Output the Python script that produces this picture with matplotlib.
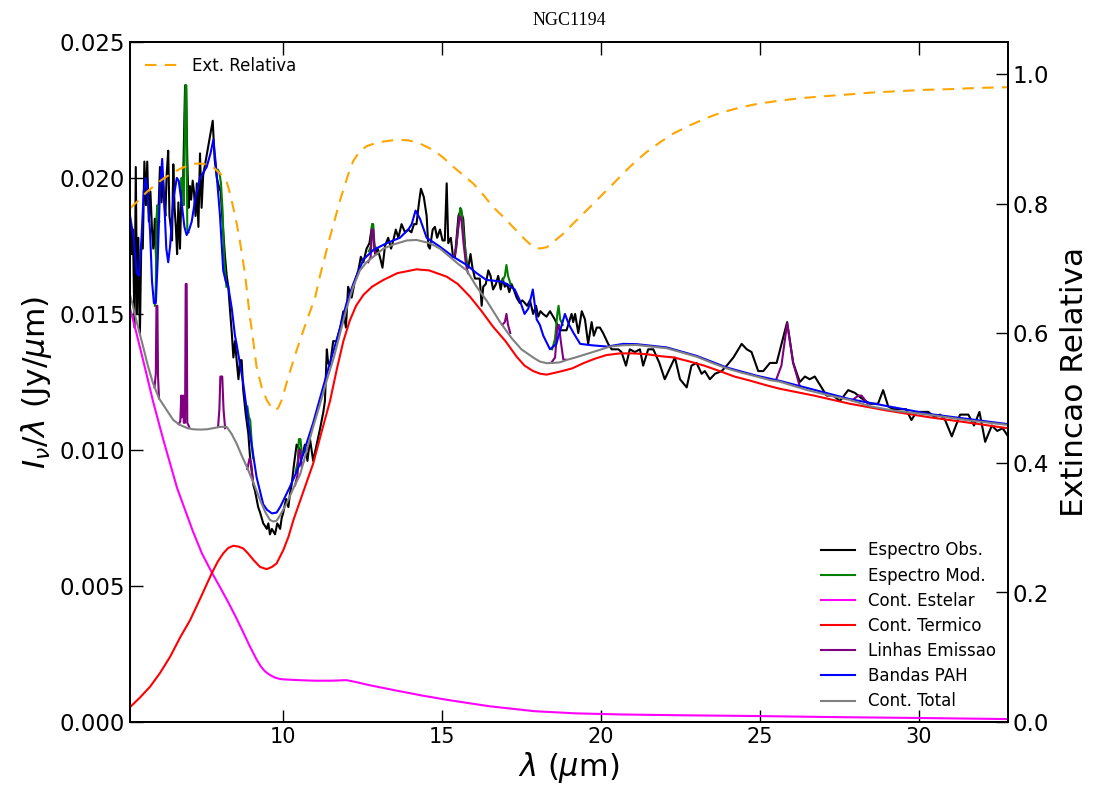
import numpy as np
import matplotlib
matplotlib.use('Agg')
import matplotlib.pyplot as plt

# observed spectrum (um, Jy/um)
obs_wl = [5.19, 5.24, 5.28, 5.33, 5.37, 5.41, 5.45, 5.50, 5.54, 5.59, 5.64, 5.69, 5.73, 5.78, 5.83,
          5.88, 5.92, 5.97, 6.01, 6.05, 6.09, 6.13, 6.18, 6.22, 6.26, 6.30, 6.34, 6.39, 6.43, 6.47,
          6.51, 6.55, 6.59, 6.63, 6.67, 6.71, 6.76, 6.81, 6.86, 6.92, 6.95, 6.99, 7.03, 7.07, 7.11,
          7.16, 7.20, 7.25, 7.29, 7.34, 7.39, 7.44, 7.49, 7.79, 7.85, 7.92, 7.98, 8.04, 8.10, 8.17,
          8.23, 8.28, 8.33, 8.39, 8.44, 8.49, 8.55, 8.60, 8.65, 8.70, 8.75, 8.83, 8.91, 8.96, 9.02,
          9.07, 9.12, 9.17, 9.22, 9.28, 9.33, 9.38, 9.44, 9.49, 9.54, 9.59, 9.65, 9.70, 9.75, 9.82,
          9.87, 9.91, 9.96, 10.01, 10.06, 10.10, 10.17, 10.22, 10.27, 10.31, 10.35, 10.43, 10.48, 10.54, 10.61,
          10.69, 10.77, 10.85, 10.95, 11.06, 11.17, 11.27, 11.32, 11.38, 11.42, 11.48, 11.58, 11.69, 11.80, 11.90,
          11.98, 12.05, 12.16, 12.26, 12.37, 12.45, 12.53, 12.63, 12.72, 12.81, 12.90, 12.98, 13.07, 13.13, 13.21,
          13.31, 13.40, 13.47, 13.55, 13.63, 13.73, 13.84, 13.94, 14.04, 14.12, 14.20, 14.28, 14.34, 14.43, 14.52,
          14.57, 14.62, 14.71, 14.78, 14.85, 14.94, 15.02, 15.09, 15.15, 15.20, 15.28, 15.34, 15.41, 15.52, 15.59,
          15.67, 15.76, 15.83, 15.90, 15.96, 16.04, 16.12, 16.19, 16.25, 16.30, 16.38, 16.46, 16.53, 16.61, 16.70,
          16.77, 16.85, 16.91, 16.98, 17.05, 17.12, 17.19, 17.26, 17.35, 17.45, 17.53, 17.61, 17.68, 17.77, 17.87,
          17.96, 18.03, 18.10, 18.18, 18.29, 18.40, 18.55, 18.71, 18.92, 19.08, 19.13, 19.19, 19.29, 19.40, 19.50,
          19.60, 19.71, 19.78, 19.87, 19.97, 20.07, 20.23, 20.34, 20.45, 20.55, 20.65, 20.79, 20.91, 21.07, 21.23,
          21.33, 21.49, 21.65, 21.84, 22.01, 22.17, 22.33, 22.49, 22.70, 22.85, 23.01, 23.17, 23.27, 23.43, 23.59,
          23.80, 23.96, 24.17, 24.43, 24.59, 24.74, 24.95, 25.11, 25.32, 25.53, 25.86, 26.05, 26.26, 26.42, 26.57,
          26.73, 26.89, 27.10, 27.31, 27.52, 27.78, 27.99, 28.20, 28.46, 28.72, 28.88, 29.04, 29.20, 29.40, 29.60,
          29.77, 29.93, 30.10, 30.30, 30.51, 30.67, 30.83, 31.04, 31.30, 31.56, 31.74, 31.91, 32.09, 32.30, 32.47,
          32.64, 32.81]
obs_fl = [0.0185, 0.0172, 0.0181, 0.0145, 0.0204, 0.0150, 0.0178, 0.0143, 0.0174, 0.0174, 0.0206, 0.0190, 0.0206, 0.0184, 0.0195,
          0.0181, 0.0174, 0.0185, 0.0169, 0.0178, 0.0190, 0.0204, 0.0191, 0.0201, 0.0192, 0.0186, 0.0201, 0.0210, 0.0186, 0.0182,
          0.0177, 0.0205, 0.0189, 0.0182, 0.0172, 0.0191, 0.0174, 0.0197, 0.0199, 0.0234, 0.0234, 0.0207, 0.0189, 0.0197, 0.0192,
          0.0199, 0.0195, 0.0186, 0.0198, 0.0182, 0.0209, 0.0189, 0.0201, 0.0221, 0.0207, 0.0200, 0.0197, 0.0195, 0.0184, 0.0172,
          0.0164, 0.0160, 0.0152, 0.0143, 0.0134, 0.0140, 0.0132, 0.0126, 0.0133, 0.0133, 0.0122, 0.0113, 0.0106, 0.0098, 0.0092,
          0.0087, 0.0085, 0.0082, 0.0079, 0.0077, 0.0075, 0.0073, 0.0072, 0.0071, 0.0073, 0.0069, 0.0071, 0.0070, 0.0069, 0.0073,
          0.0072, 0.0071, 0.0075, 0.0077, 0.0080, 0.0082, 0.0079, 0.0084, 0.0087, 0.0091, 0.0095, 0.0102, 0.0101, 0.0100, 0.0098,
          0.0102, 0.0096, 0.0104, 0.0096, 0.0102, 0.0108, 0.0114, 0.0118, 0.0137, 0.0132, 0.0131, 0.0140, 0.0140, 0.0145, 0.0151,
          0.0145, 0.0160, 0.0156, 0.0162, 0.0166, 0.0171, 0.0169, 0.0174, 0.0176, 0.0183, 0.0172, 0.0174, 0.0170, 0.0167, 0.0175,
          0.0178, 0.0174, 0.0177, 0.0181, 0.0178, 0.0183, 0.0180, 0.0181, 0.0180, 0.0183, 0.0183, 0.0191, 0.0196, 0.0193, 0.0186,
          0.0175, 0.0174, 0.0181, 0.0182, 0.0178, 0.0181, 0.0177, 0.0177, 0.0198, 0.0176, 0.0178, 0.0172, 0.0171, 0.0186, 0.0188,
          0.0185, 0.0169, 0.0167, 0.0172, 0.0167, 0.0163, 0.0163, 0.0163, 0.0153, 0.0160, 0.0161, 0.0166, 0.0164, 0.0159, 0.0161,
          0.0164, 0.0159, 0.0163, 0.0160, 0.0161, 0.0158, 0.0161, 0.0159, 0.0156, 0.0154, 0.0155, 0.0154, 0.0153, 0.0155, 0.0150,
          0.0153, 0.0149, 0.0151, 0.0150, 0.0149, 0.0151, 0.0148, 0.0144, 0.0144, 0.0150, 0.0147, 0.0150, 0.0143, 0.0151, 0.0148,
          0.0139, 0.0147, 0.0142, 0.0145, 0.0145, 0.0143, 0.0139, 0.0137, 0.0137, 0.0137, 0.0136, 0.0131, 0.0137, 0.0136, 0.0137,
          0.0131, 0.0137, 0.0137, 0.0132, 0.0126, 0.0130, 0.0134, 0.0126, 0.0123, 0.0131, 0.0132, 0.0128, 0.0129, 0.0126, 0.0128,
          0.0129, 0.0131, 0.0134, 0.0139, 0.0137, 0.0136, 0.0129, 0.0129, 0.0132, 0.0132, 0.0147, 0.0132, 0.0125, 0.0127, 0.0126,
          0.0127, 0.0124, 0.0120, 0.0120, 0.0118, 0.0122, 0.0121, 0.0119, 0.0117, 0.0117, 0.0122, 0.0116, 0.0115, 0.0115, 0.0115,
          0.0111, 0.0114, 0.0114, 0.0114, 0.0112, 0.0113, 0.0111, 0.0105, 0.0113, 0.0113, 0.0109, 0.0114, 0.0103, 0.0109, 0.0107,
          0.0108, 0.0105]

# PAH bands (on top of continuum)
pah_wl = [5.19, 5.30, 5.40, 5.47, 5.55, 5.62, 5.68, 5.74, 5.82, 5.88, 5.94, 6.00, 6.06, 6.13, 6.20,
          6.27, 6.33, 6.39, 6.45, 6.55, 6.66, 6.72, 6.81, 6.90, 6.97, 7.05, 7.13, 7.25, 7.39, 7.60,
          7.72, 7.81, 7.88, 8.02, 8.12, 8.20, 8.28, 8.39, 8.49, 8.54, 8.75, 8.96, 9.17, 9.38, 9.50,
          9.65, 9.80, 9.91, 10.22, 10.54, 10.95, 11.38, 11.80, 12.00, 12.21, 12.53, 12.84, 13.26, 13.68, 13.94,
          14.05, 14.17, 14.31, 14.52, 14.94, 15.36, 15.78, 16.09, 16.40, 16.83, 17.05, 17.29, 17.45, 17.60, 17.72,
          17.86, 17.98, 18.08, 18.19, 18.40, 18.60, 18.72, 18.87, 19.00, 19.14, 19.35, 19.70, 20.20, 20.70, 21.12,
          22.07, 23.01, 23.96, 24.90, 25.63, 27.83, 30.35, 32.80]
pah_fl = [0.0186, 0.0178, 0.0165, 0.0164, 0.0178, 0.0195, 0.0200, 0.0195, 0.0180, 0.0162, 0.0154, 0.0154, 0.0170, 0.0195, 0.0207,
          0.0190, 0.0174, 0.0169, 0.0175, 0.0192, 0.0200, 0.0199, 0.0191, 0.0182, 0.0179, 0.0181, 0.0184, 0.0193, 0.0200, 0.0204,
          0.0209, 0.0214, 0.0206, 0.0186, 0.0166, 0.0162, 0.0160, 0.0152, 0.0142, 0.0139, 0.01245, 0.0106, 0.0090, 0.0080, 0.0078,
          0.00767, 0.0077, 0.0079, 0.00865, 0.0095, 0.0110, 0.0128, 0.0145, 0.0154, 0.0161, 0.0170, 0.01735, 0.0176, 0.0178, 0.0181,
          0.0183, 0.0188, 0.0185, 0.0178, 0.01747, 0.0171, 0.0168, 0.0165, 0.01625, 0.0162, 0.0161, 0.0159, 0.0155, 0.0150, 0.0152,
          0.0159, 0.0148, 0.0146, 0.0142, 0.0137, 0.0139, 0.0144, 0.0150, 0.0146, 0.0143, 0.0139, 0.01385, 0.0138, 0.0139, 0.01389,
          0.01377, 0.01346, 0.01303, 0.01273, 0.01254, 0.01187, 0.01132, 0.01095]

# total continuum
tot_wl = [5.19, 5.28, 5.40, 5.60, 5.75, 5.91, 6.10, 6.34, 6.55, 6.76, 7.00, 7.18, 7.40, 7.60, 7.80,
          8.02, 8.23, 8.38, 8.54, 8.70, 8.86, 9.07, 9.28, 9.45, 9.59, 9.70, 9.80, 9.91, 10.10, 10.33,
          10.54, 10.75, 10.95, 11.17, 11.38, 11.60, 11.80, 12.00, 12.21, 12.42, 12.63, 12.84, 13.16, 13.47, 13.89,
          14.20, 14.62, 14.94, 15.25, 15.50, 15.78, 16.09, 16.40, 16.83, 17.20, 17.50, 17.87, 18.08, 18.30, 18.50,
          18.71, 18.93, 19.20, 19.45, 19.97, 20.28, 20.70, 21.12, 21.60, 22.07, 22.50, 23.01, 23.50, 23.96, 24.40,
          24.90, 25.32, 25.63, 26.50, 27.20, 27.83, 28.50, 29.20, 30.35, 31.50, 32.80]
tot_fl = [0.0157, 0.0153, 0.0147, 0.0138, 0.0131, 0.01246, 0.0119, 0.01147, 0.0111, 0.01092, 0.0108, 0.01076, 0.01075, 0.01076, 0.0108,
          0.01085, 0.01085, 0.0106, 0.01024, 0.0098, 0.00939, 0.0088, 0.00816, 0.0077, 0.00743, 0.00737, 0.0074, 0.0076, 0.0080, 0.0086,
          0.0091, 0.0100, 0.01085, 0.0117, 0.01257, 0.0134, 0.0143, 0.0152, 0.0160, 0.0166, 0.0169, 0.0171, 0.0174, 0.01755, 0.0177,
          0.01772, 0.0176, 0.0174, 0.0171, 0.01685, 0.0166, 0.0160, 0.0155, 0.0147, 0.0141, 0.0137, 0.0134, 0.01325, 0.01319, 0.0132,
          0.01322, 0.01331, 0.0134, 0.01349, 0.01368, 0.0138, 0.01385, 0.01386, 0.0138, 0.01374, 0.0136, 0.01343, 0.0132, 0.0130, 0.01285,
          0.0127, 0.01257, 0.01251, 0.0122, 0.0120, 0.01184, 0.0116, 0.01145, 0.01129, 0.0111, 0.01092]

# stellar continuum
star_wl = [5.19, 5.40, 5.60, 5.75, 5.91, 6.07, 6.23, 6.45, 6.67, 6.92, 7.17, 7.45, 7.76, 8.00, 8.28,
           8.50, 8.75, 8.95, 9.17, 9.30, 9.42, 9.54, 9.65, 9.76, 9.88, 10.00, 10.50, 11.00, 11.50, 12.00,
           12.30, 12.70, 13.60, 14.40, 15.20, 16.50, 17.90, 19.20, 20.60, 22.50, 25.00, 27.50, 30.00, 32.80]
star_fl = [0.0152, 0.01425, 0.0133, 0.01258, 0.0118, 0.0111, 0.0104, 0.0095, 0.0086, 0.0078, 0.0070, 0.0062, 0.0055, 0.0050, 0.0044,
           0.0039, 0.0033, 0.0028, 0.0023, 0.00205, 0.00188, 0.00177, 0.00169, 0.00163, 0.00159, 0.00157, 0.00154, 0.00152, 0.00152, 0.00154,
           0.00147, 0.00136, 0.00115, 0.00097, 0.00081, 0.00058, 0.00040, 0.00032, 0.00028, 0.00025, 0.00022, 0.00018, 0.00015, 0.00011]

# thermal continuum
term_wl = [5.19, 5.50, 5.82, 6.13, 6.45, 6.76, 7.08, 7.42, 7.76, 7.95, 8.12, 8.28, 8.44, 8.60, 8.75,
           8.90, 9.07, 9.28, 9.49, 9.65, 9.80, 10.01, 10.17, 10.33, 10.65, 10.95, 11.20, 11.48, 11.70, 11.90,
           12.10, 12.30, 12.53, 12.80, 13.16, 13.60, 14.20, 14.60, 15.15, 15.50, 15.88, 16.25, 16.61, 17.00, 17.35,
           17.60, 17.87, 18.10, 18.30, 18.71, 19.10, 19.45, 19.80, 20.18, 20.60, 21.02, 21.45, 21.86, 22.30, 22.80,
           23.25, 23.74, 24.20, 24.69, 25.20, 25.63, 26.70, 27.83, 29.00, 30.35, 31.60, 32.80]
term_fl = [0.00055, 0.0009, 0.0013, 0.0018, 0.0024, 0.0031, 0.00375, 0.0046, 0.00547, 0.0059, 0.0062, 0.0064, 0.00648, 0.00645, 0.00638,
           0.0062, 0.00596, 0.0057, 0.00562, 0.0057, 0.00583, 0.00632, 0.0068, 0.00743, 0.0085, 0.0095, 0.0106, 0.0118, 0.0130, 0.0140,
           0.01475, 0.0153, 0.0157, 0.0160, 0.01625, 0.0165, 0.01664, 0.0166, 0.01637, 0.0161, 0.01564, 0.0151, 0.01453, 0.0140, 0.01343,
           0.0131, 0.0129, 0.0128, 0.01277, 0.01288, 0.0130, 0.01319, 0.01335, 0.01349, 0.01355, 0.01355, 0.01352, 0.01345, 0.0134, 0.01325,
           0.0131, 0.0129, 0.0127, 0.01255, 0.01238, 0.01225, 0.0120, 0.0117, 0.01145, 0.0112, 0.0110, 0.0108]

# emission lines above the continuum, one list per line
lin_wl = [[5.96, 6.00, 6.02, 6.05, 6.07, 6.10],
          [6.72, 6.77, 6.80, 6.82, 6.86, 6.88, 6.92, 6.94, 6.97, 6.99, 7.05],
          [7.96, 8.00, 8.03, 8.09, 8.13, 8.18],
          [8.88, 8.95, 9.00, 9.06],
          [10.38, 10.46, 10.50, 10.54, 10.58, 10.66],
          [12.68, 12.76, 12.80, 12.84, 12.88, 12.95],
          [15.33, 15.42, 15.50, 15.56, 15.61, 15.68, 15.76, 15.82],
          [16.90, 16.98, 17.03, 17.08, 17.15],
          [18.45, 18.56, 18.63, 18.68, 18.74, 18.82, 18.90],
          [25.53, 25.68, 25.86, 26.05, 26.26],
          [27.90, 28.10, 28.20, 28.40]]
lin_fl = [[0.0123, 0.0128, 0.0153, 0.0153, 0.0127, 0.0119],
          [0.01095, 0.01105, 0.0120, 0.0112, 0.0120, 0.0110, 0.0110, 0.0161, 0.0161, 0.0110, 0.01085],
          [0.01087, 0.0115, 0.0127, 0.0127, 0.0115, 0.0108],
          [0.0093, 0.0097, 0.0095, 0.0088],
          [0.0087, 0.0091, 0.0100, 0.0100, 0.0094, 0.0096],
          [0.0169, 0.0171, 0.0181, 0.0181, 0.0173, 0.0172],
          [0.0171, 0.0172, 0.0180, 0.0186, 0.0185, 0.0176, 0.0168, 0.0165],
          [0.0146, 0.0147, 0.0150, 0.0146, 0.0143],
          [0.01322, 0.0134, 0.0145, 0.0146, 0.0140, 0.01332, 0.01332],
          [0.01263, 0.0131, 0.01466, 0.0132, 0.01233],
          [0.01182, 0.0120, 0.0120, 0.0117]]

# model spectrum where it rises above the PAH curve
mod_wl = [[5.97, 6.00, 6.02, 6.05, 6.08, 6.11],
          [6.74, 6.79, 6.81, 6.85, 6.88, 6.93, 6.96, 6.99, 7.03],
          [7.95, 8.00, 8.05, 8.10, 8.15, 8.22],
          [8.88, 8.93, 8.97, 9.01, 9.06],
          [10.40, 10.47, 10.50, 10.55, 10.60, 10.66],
          [12.70, 12.77, 12.80, 12.84, 12.88, 12.95],
          [15.36, 15.45, 15.52, 15.58, 15.62, 15.70, 15.80],
          [16.90, 16.98, 17.03, 17.08, 17.16],
          [18.47, 18.56, 18.63, 18.67, 18.72, 18.80]]
mod_fl = [[0.0153, 0.0160, 0.0185, 0.0190, 0.0185, 0.0184],
          [0.0198, 0.0196, 0.0200, 0.0194, 0.0190, 0.0234, 0.0234, 0.0181, 0.0180],
          [0.0203, 0.0202, 0.0198, 0.0188, 0.0170, 0.0160],
          [0.0116, 0.0112, 0.0111, 0.0104, 0.0097],
          [0.0092, 0.0096, 0.0104, 0.0104, 0.0098, 0.0099],
          [0.0173, 0.0175, 0.0183, 0.0183, 0.0175, 0.0174],
          [0.0171, 0.0174, 0.0183, 0.0189, 0.0188, 0.0177, 0.0168],
          [0.0162, 0.0164, 0.0168, 0.0164, 0.0161],
          [0.0137, 0.0141, 0.0150, 0.0153, 0.0148, 0.0146]]

# relative extinction (right axis)
ext_wl = [5.19, 5.45, 5.71, 6.00, 6.24, 6.50, 6.76, 7.00, 7.23, 7.45, 7.65, 7.82, 7.97, 8.10, 8.23,
          8.34, 8.44, 8.55, 8.65, 8.81, 8.96, 9.02, 9.17, 9.33, 9.49, 9.62, 9.75, 9.85, 9.96, 10.17,
          10.43, 10.75, 11.01, 11.17, 11.48, 11.80, 12.05, 12.21, 12.40, 12.63, 13.00, 13.58, 13.95, 14.31, 14.73,
          15.05, 15.36, 15.68, 15.99, 16.30, 16.61, 16.93, 17.24, 17.55, 17.87, 18.08, 18.30, 18.50, 18.80, 19.14,
          19.45, 19.76, 20.08, 20.39, 20.70, 21.02, 21.44, 21.86, 22.30, 22.80, 23.25, 23.74, 24.40, 25.00, 25.60,
          26.26, 27.00, 27.83, 28.60, 29.40, 30.20, 30.98, 31.90, 32.80]
ext_val = [0.793, 0.805, 0.818, 0.830, 0.839, 0.847, 0.854, 0.859, 0.862, 0.862, 0.860, 0.856, 0.849, 0.843, 0.834,
           0.815, 0.793, 0.768, 0.741, 0.690, 0.625, 0.605, 0.548, 0.517, 0.497, 0.487, 0.481, 0.485, 0.497, 0.533,
           0.574, 0.620, 0.655, 0.690, 0.749, 0.806, 0.845, 0.866, 0.880, 0.889, 0.895, 0.899, 0.898, 0.893, 0.883,
           0.871, 0.857, 0.844, 0.831, 0.814, 0.795, 0.780, 0.764, 0.748, 0.733, 0.731, 0.733, 0.741, 0.753, 0.770,
           0.785, 0.800, 0.816, 0.831, 0.847, 0.862, 0.880, 0.895, 0.909, 0.921, 0.931, 0.940, 0.949, 0.955, 0.959,
           0.963, 0.966, 0.969, 0.972, 0.974, 0.976, 0.977, 0.979, 0.980]


def join(segs):
    # separate segments with NaN so each one is drawn on its own
    return np.concatenate([np.append(np.array(s, float), np.nan) for s in segs])


fig = plt.figure(figsize=(10.93, 7.9), dpi=100)
ax = fig.add_axes([0.119, 0.086, 0.803, 0.861])

lw = 1.5
ax.plot(obs_wl, obs_fl, color='black', lw=lw, label='Espectro Obs.')
ax.plot(join(mod_wl), join(mod_fl), color='green', lw=lw, label='Espectro Mod.')
ax.plot(star_wl, star_fl, color='magenta', lw=lw, label='Cont. Estelar')
ax.plot(term_wl, term_fl, color='red', lw=lw, label='Cont. Termico')
ax.plot(join(lin_wl), join(lin_fl), color='purple', lw=lw, label='Linhas Emissao')
ax.plot(pah_wl, pah_fl, color='blue', lw=lw, label='Bandas PAH')
ax.plot(tot_wl, tot_fl, color='gray', lw=lw, label='Cont. Total')

ax.set_xlim(5.19, 32.8)
ax.set_ylim(0, 0.025)
ax.set_xticks([10, 15, 20, 25, 30])
ax.set_yticks([0.0, 0.005, 0.010, 0.015, 0.020, 0.025])
ax.yaxis.set_major_formatter(plt.FormatStrFormatter('%.3f'))
ax.tick_params(direction='in', length=9, width=1, top=True)
ax.tick_params(axis='x', labelsize=15)
ax.tick_params(axis='y', labelsize=16.5)
ax.set_xlabel(r'$\lambda$ ($\mu$m)', fontsize=22, labelpad=2)
ax.set_ylabel(r'$I_\nu/\lambda$ (Jy/$\mu$m)', fontsize=22.5, labelpad=4)
ax.set_title('NGC1194', fontsize=13, family='Liberation Serif', pad=12)
ax.legend(loc='lower right', frameon=False, fontsize=12, labelspacing=0.43,
          handlelength=2.0, borderaxespad=0.3)

ax2 = ax.twinx()
ax2.plot(ext_wl, ext_val, color='orange', lw=lw, linestyle=(0, (5.5, 4)), label='Ext. Relativa')
ax2.set_ylim(0, 1.05)
ax2.set_yticks([0.0, 0.2, 0.4, 0.6, 0.8, 1.0])
ax2.tick_params(direction='in', length=9, width=1, labelsize=16.5)
ax2.set_ylabel('Extincao Relativa', fontsize=22.5, labelpad=8)
ax2.legend(loc='upper left', frameon=False, fontsize=12, handlelength=2.0, borderaxespad=0.5)

for a in (ax, ax2):
    for s in a.spines.values():
        s.set_linewidth(1.3)

fig.savefig('out.png', dpi=100)
